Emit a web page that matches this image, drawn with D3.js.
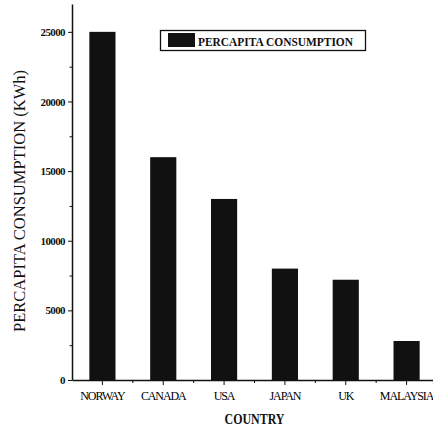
<!DOCTYPE html>
<html>
<head>
<meta charset="utf-8">
<script src="https://cdn.jsdelivr.net/npm/d3@7"></script>
<style>
  body { margin: 0; background: #fff; }
  svg { display: block; font-family: "Liberation Serif", "DejaVu Serif", serif; }
  .axis path, .axis line { stroke: #111; }
  .axis path { stroke-width: 1.5; }
</style>
</head>
<body>
<div id="chart"></div>
<script>
var countries = ["NORWAY", "CANADA", "USA", "JAPAN", "UK", "MALAYSIA"];
var consumption = [25000, 16000, 13000, 8000, 7200, 2800];
var yTicks = [0, 5000, 10000, 15000, 20000, 25000];
var yMinorTicks = [2500, 7500, 12500, 17500, 22500];

var width = 433, height = 430;
var margin = {top: 4, right: -4, bottom: 50, left: 72};
var serif = "'Liberation Serif', 'DejaVu Serif', serif";

var svg = d3.select("#chart").append("svg")
	.attr("width", width)
	.attr("height", height);

var x = d3.scaleBand()
	.domain(countries)
	.range([margin.left, width - margin.right])
	.paddingInner(0.57)
	.paddingOuter(0.285);

var y = d3.scaleLinear()
	.domain([0, 27000])
	.range([height - margin.bottom, margin.top]);

// bars
svg.selectAll("rect.bar")
		.data(countries)
	.enter().append("rect")
		.attr("class", "bar")
		.attr("x", function(d) { return x(d); })
		.attr("width", x.bandwidth())
		.attr("y", function(d, i) { return y(consumption[i]); })
		.attr("height", function(d, i) { return y(0) - y(consumption[i]); })
		.attr("fill", "#111");

// y axis
var yAxis = svg.append("g")
	.attr("class", "axis")
	.attr("transform", "translate(" + margin.left + ",0)")
	.call(d3.axisLeft(y).tickValues(yTicks).tickFormat(d3.format("d")).tickSize(4).tickPadding(3).tickSizeOuter(0))
	.attr("font-family", serif);
yAxis.selectAll("text")
	.style("font-size", "11px")
	.style("font-weight", "bold")
	.style("letter-spacing", "-0.6px")
	.attr("fill", "#111");

svg.append("g")
	.attr("class", "axis")
	.attr("transform", "translate(" + margin.left + ",0)")
	.call(d3.axisLeft(y).tickValues(yMinorTicks).tickSize(2.5).tickFormat(""))
	.select(".domain").remove();

// x axis
var xAxis = svg.append("g")
	.attr("class", "axis")
	.attr("transform", "translate(0," + y(0) + ")")
	.call(d3.axisBottom(x).tickSize(5).tickPadding(6).tickSizeOuter(0))
	.attr("font-family", serif);
xAxis.selectAll("text")
	.style("font-size", "12px")
	.style("letter-spacing", "-1.1px")
	.attr("fill", "#000");

// minor ticks between bars
var step = x.step();
svg.append("g")
	.attr("class", "axis")
	.selectAll("line")
		.data(countries.slice(1))
	.enter().append("line")
		.attr("x1", function(d) { return x(d) + x.bandwidth() / 2 - step / 2; })
		.attr("x2", function(d) { return x(d) + x.bandwidth() / 2 - step / 2; })
		.attr("y1", y(0))
		.attr("y2", y(0) + 3)
		.attr("stroke", "#111");

// axis titles
svg.append("text")
	.attr("transform", "translate(25," + 201 + ") rotate(-90)")
	.attr("text-anchor", "middle")
	.attr("textLength", 262)
	.attr("lengthAdjust", "spacingAndGlyphs")
	.style("font-size", "16px")
	.attr("fill", "#111")
	.text("PERCAPITA CONSUMPTION (KWh)");

svg.append("text")
	.attr("x", (margin.left + width - margin.right) / 2)
	.attr("y", 424)
	.attr("text-anchor", "middle")
	.attr("textLength", 60)
	.attr("lengthAdjust", "spacingAndGlyphs")
	.style("font-size", "15px")
	.style("font-weight", "bold")
	.attr("fill", "#111")
	.text("COUNTRY");

// legend
var legend = svg.append("g");
legend.append("rect")
	.attr("x", 160.5).attr("y", 30.5)
	.attr("width", 205).attr("height", 20)
	.attr("fill", "none")
	.attr("stroke", "#111")
	.attr("stroke-width", 1.3);
legend.append("rect")
	.attr("x", 168).attr("y", 33)
	.attr("width", 27).attr("height", 14)
	.attr("fill", "#111");
legend.append("text")
	.attr("x", 198).attr("y", 46)
	.attr("textLength", 155)
	.attr("lengthAdjust", "spacingAndGlyphs")
	.style("font-size", "13px")
	.style("font-weight", "bold")
	.attr("fill", "#111")
	.text("PERCAPITA CONSUMPTION");
</script>
</body>
</html>
